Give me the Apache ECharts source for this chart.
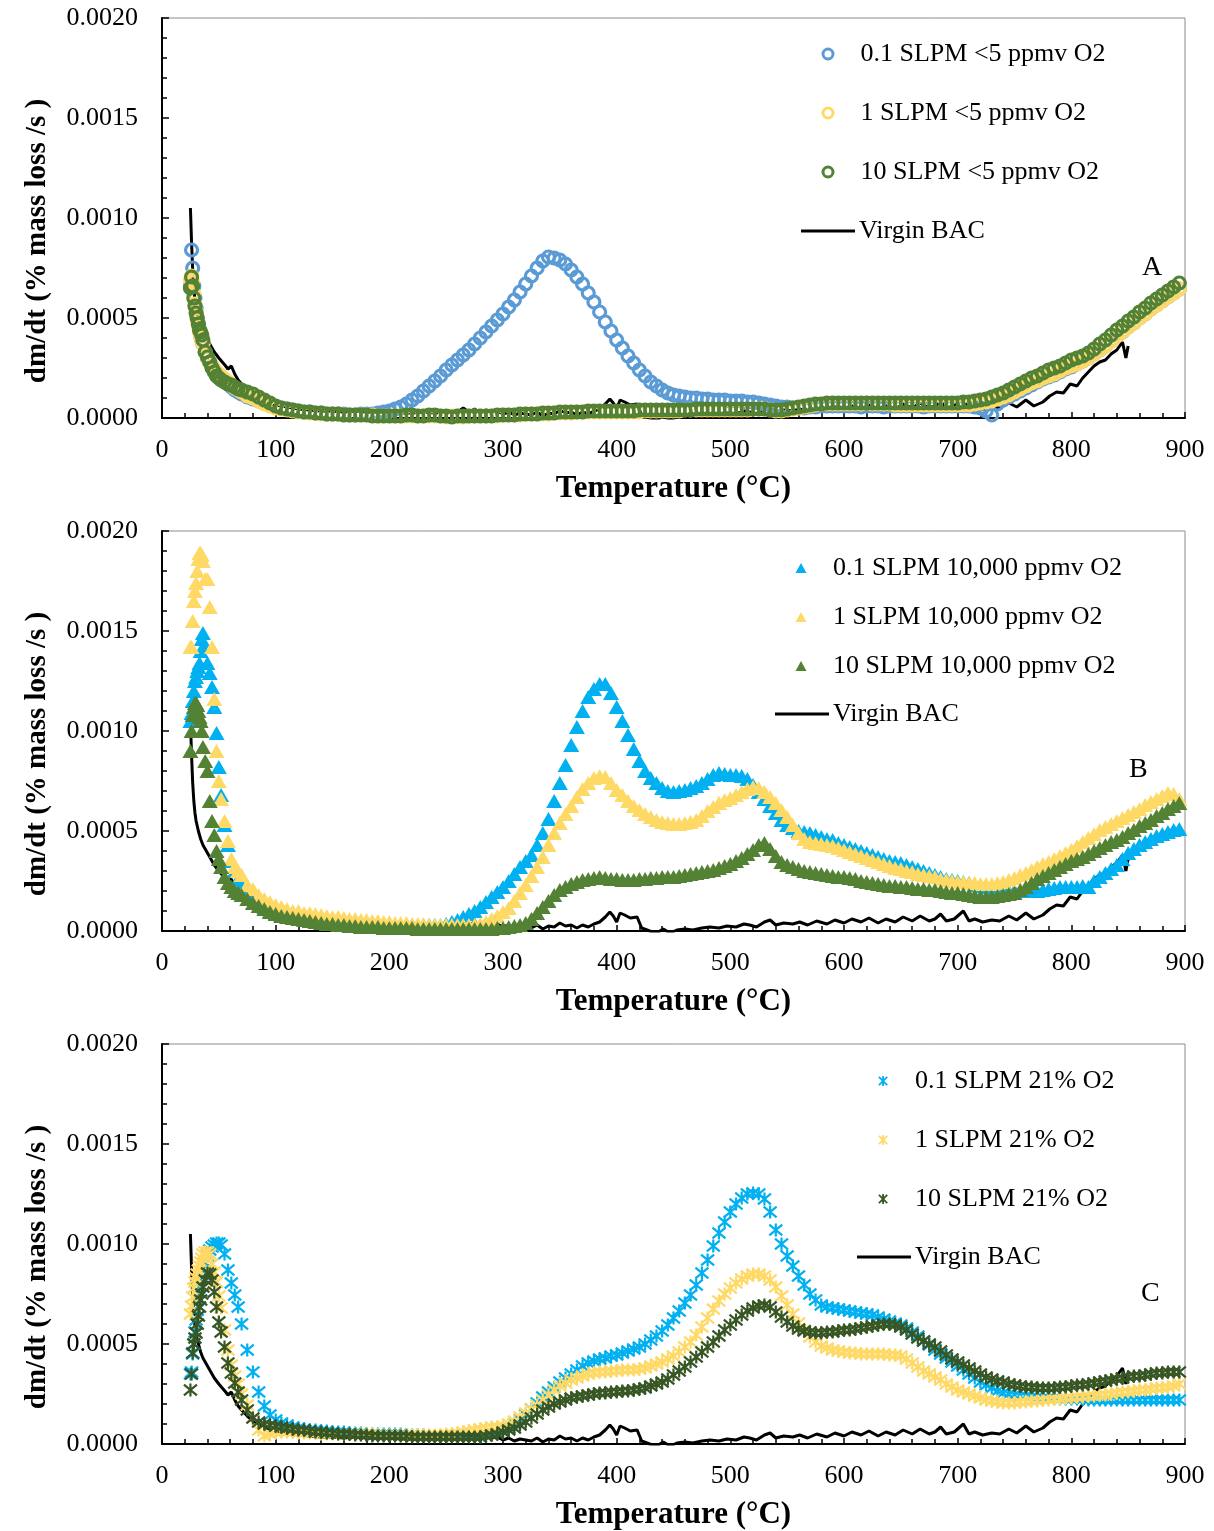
<!DOCTYPE html>
<html><head><meta charset="utf-8">
<script src="https://cdn.jsdelivr.net/npm/echarts@6/dist/echarts.min.js"></script>
<style>html,body{margin:0;padding:0;background:#fff;}#c{width:1214px;height:1531px;}</style>
</head><body><div id="c"></div>
<script>
// Values are in units of 1e-4 (% mass loss /s); axis labels convert back.
const TEMP = [25,26,27,28,29,30,31,32,33,34,35,36,38,40,42,44,46,48,50,52,55,58,61,64,67,70,75,
80,85,90,95,100,
105,110,115,120,125,130,135,140,145,150,155,160,165,170,175,180,185,190,195,200,
205,210,215,220,225,230,235,240,245,250,255,260,265,270,275,280,285,290,295,300,
305,310,315,320,325,330,335,340,345,350,355,360,365,370,375,380,385,390,395,400,
405,410,415,420,425,430,435,440,445,450,455,460,465,470,475,480,485,490,495,500,
505,510,515,520,525,530,535,540,545,550,555,560,565,570,575,580,585,590,595,600,
605,610,615,620,625,630,635,640,645,650,655,660,665,670,675,680,685,690,695,700,
705,710,715,720,725,730,735,740,745,750,755,760,765,770,775,780,785,790,795,800,
805,810,815,820,825,830,835,840,845,850,855,860,865,870,875,880,885,890,895];

const A_BLUE = [6.6,8.4,7.5,6.6,6.0,5.5,5.0,4.7,4.4,4.1,3.9,3.7,3.3,3.0,2.8,2.6,2.4,2.25,2.1,2.0,1.85,1.7,1.55,1.4,1.3,1.2,1.05,
0.95,0.85,0.75,0.65,0.55,
0.5,0.45,0.4,0.35,0.3,0.3,0.25,0.25,0.2,0.2,0.2,0.2,0.15,0.15,0.2,0.2,0.2,0.25,0.3,0.35,
0.45,0.55,0.7,0.9,1.1,1.35,1.6,1.85,2.1,2.4,2.65,2.9,3.15,3.4,3.7,4.0,4.3,4.6,4.9,5.2,
5.55,5.9,6.3,6.7,7.1,7.5,7.85,8.05,8.0,7.9,7.7,7.4,7.05,6.7,6.25,5.8,5.3,4.8,4.35,3.9,
3.5,3.1,2.75,2.4,2.1,1.8,1.6,1.4,1.25,1.15,1.1,1.05,1.0,1.0,0.95,0.95,0.9,0.9,0.9,0.85,
0.85,0.85,0.8,0.8,0.75,0.7,0.65,0.6,0.55,0.55,0.5,0.5,0.5,0.55,0.55,0.6,0.6,0.6,0.6,0.6,
0.6,0.6,0.55,0.6,0.6,0.6,0.55,0.6,0.6,0.6,0.6,0.6,0.6,0.55,0.6,0.6,0.6,0.6,0.6,0.6,
0.6,0.6,0.55,0.5,0.35,0.15,0.7,0.9,1.05,1.2,1.35,1.5,1.65,1.8,1.95,2.05,2.15,2.3,2.45,2.55,
2.7,2.85,3.0,3.2,3.4,3.6,3.85,4.1,4.3,4.55,4.75,5.0,5.2,5.45,5.65,5.85,6.05,6.25,6.45];
const A_YELLOW = [6.9,7.1,6.8,6.2,5.7,5.3,4.9,4.6,4.3,4.1,3.9,3.7,3.3,3.0,2.8,2.6,2.45,2.3,2.2,2.1,1.95,1.8,1.65,1.5,1.4,1.3,1.1,
1.0,0.85,0.7,0.6,0.5,
0.45,0.4,0.35,0.3,0.3,0.25,0.25,0.2,0.2,0.2,0.2,0.15,0.15,0.15,0.15,0.15,0.15,0.1,0.1,0.1,
0.1,0.1,0.1,0.1,0.1,0.1,0.1,0.1,0.1,0.05,0.1,0.1,0.05,0.1,0.1,0.1,0.1,0.1,0.1,0.15,
0.15,0.15,0.15,0.2,0.2,0.2,0.2,0.2,0.25,0.25,0.25,0.25,0.3,0.3,0.3,0.3,0.3,0.3,0.3,0.3,
0.3,0.3,0.3,0.3,0.35,0.35,0.35,0.35,0.35,0.35,0.35,0.4,0.4,0.4,0.4,0.4,0.4,0.4,0.4,0.4,
0.4,0.4,0.4,0.45,0.45,0.45,0.4,0.35,0.35,0.4,0.45,0.5,0.55,0.6,0.65,0.7,0.7,0.7,0.7,0.7,
0.7,0.7,0.7,0.75,0.7,0.7,0.7,0.7,0.65,0.65,0.65,0.65,0.65,0.65,0.65,0.65,0.65,0.65,0.65,0.65,
0.65,0.65,0.7,0.75,0.8,0.85,0.95,1.05,1.15,1.3,1.45,1.6,1.75,1.85,2.0,2.1,2.2,2.35,2.5,2.6,
2.7,2.85,3.0,3.2,3.4,3.6,3.85,4.1,4.3,4.55,4.75,5.0,5.2,5.45,5.65,5.85,6.05,6.25,6.45];
const A_GREEN = [6.5,7.05,6.6,6.0,5.6,5.25,5.0,4.7,4.4,4.3,4.15,3.9,3.3,3.05,2.8,2.5,2.3,2.1,2.0,1.9,1.8,1.7,1.65,1.55,1.45,1.4,1.3,
1.2,1.05,0.9,0.75,0.6,
0.5,0.45,0.4,0.35,0.3,0.3,0.25,0.25,0.2,0.2,0.2,0.15,0.15,0.15,0.15,0.15,0.1,0.1,0.1,0.1,
0.1,0.1,0.15,0.15,0.1,0.1,0.15,0.15,0.1,0.1,0.05,0.1,0.1,0.1,0.1,0.1,0.1,0.1,0.15,0.15,
0.15,0.15,0.2,0.2,0.2,0.2,0.25,0.25,0.25,0.3,0.3,0.3,0.3,0.3,0.35,0.35,0.35,0.35,0.35,0.35,
0.35,0.35,0.35,0.4,0.4,0.4,0.4,0.4,0.4,0.4,0.4,0.4,0.4,0.45,0.45,0.45,0.45,0.45,0.45,0.45,
0.45,0.45,0.45,0.45,0.45,0.45,0.4,0.4,0.4,0.45,0.5,0.55,0.6,0.65,0.7,0.7,0.75,0.75,0.75,0.75,
0.75,0.75,0.75,0.75,0.75,0.75,0.75,0.75,0.75,0.75,0.75,0.75,0.75,0.75,0.75,0.75,0.75,0.75,0.75,0.75,
0.8,0.8,0.85,0.9,0.95,1.05,1.15,1.25,1.4,1.55,1.7,1.85,2.0,2.1,2.25,2.4,2.5,2.6,2.75,2.9,
3.0,3.1,3.25,3.45,3.7,3.9,4.15,4.4,4.6,4.85,5.05,5.3,5.5,5.75,5.95,6.15,6.35,6.55,6.75];

const B_BLUE = [10.5,10.9,11.5,12.0,12.5,12.7,13.0,13.2,13.4,14.0,14.6,14.9,14.2,13.4,12.9,12.2,11.2,9.9,8.2,6.8,5.3,4.3,3.5,3.0,2.6,2.3,1.9,
1.6,1.4,1.2,1.0,0.9,
0.8,0.75,0.7,0.65,0.6,0.55,0.5,0.5,0.45,0.45,0.4,0.4,0.35,0.35,0.35,0.3,0.3,0.3,0.3,0.3,
0.3,0.3,0.3,0.3,0.3,0.3,0.3,0.3,0.3,0.35,0.45,0.55,0.7,0.85,1.0,1.2,1.45,1.7,1.95,2.2,
2.5,2.85,3.2,3.5,3.8,4.3,4.9,5.6,6.5,7.4,8.3,9.3,10.2,11.0,11.7,12.1,12.35,12.35,11.9,11.2,
10.5,9.8,9.1,8.5,8.0,7.65,7.4,7.15,7.0,6.95,7.0,7.05,7.15,7.25,7.4,7.6,7.8,7.9,7.85,7.8,
7.8,7.75,7.6,7.3,6.95,6.6,6.25,5.9,5.55,5.3,5.15,5.0,4.95,4.9,4.8,4.7,4.6,4.55,4.4,4.3,
4.2,4.1,4.0,3.9,3.8,3.7,3.6,3.5,3.45,3.4,3.3,3.2,3.1,3.0,2.9,2.8,2.7,2.6,2.55,2.5,
2.45,2.4,2.3,2.25,2.2,2.15,2.1,2.05,2.0,2.0,2.0,2.0,2.0,2.0,2.05,2.1,2.15,2.2,2.2,2.2,
2.2,2.25,2.2,2.5,2.7,2.9,3.1,3.3,3.6,3.9,4.1,4.3,4.45,4.6,4.75,4.85,4.95,5.05,5.1];
const B_YELLOW = [14.2,14.2,15.5,16.5,17.0,17.4,18.0,18.6,18.9,18.9,18.8,18.5,17.6,17.6,16.2,14.2,11.6,9.0,7.5,6.6,5.5,4.5,3.6,3.2,3.0,2.8,2.3,
2.1,1.8,1.6,1.45,1.3,
1.2,1.1,1.0,1.0,0.9,0.9,0.85,0.8,0.75,0.7,0.7,0.65,0.6,0.6,0.55,0.55,0.5,0.5,0.45,0.45,
0.4,0.4,0.4,0.35,0.35,0.35,0.3,0.3,0.3,0.3,0.3,0.3,0.3,0.3,0.3,0.35,0.45,0.6,0.75,0.95,
1.15,1.5,1.9,2.3,2.75,3.2,3.7,4.3,4.9,5.4,5.85,6.25,6.7,7.1,7.4,7.65,7.75,7.7,7.4,7.05,
6.8,6.5,6.25,6.05,5.85,5.7,5.55,5.45,5.4,5.35,5.35,5.4,5.45,5.55,5.75,6.0,6.2,6.4,6.55,6.65,
6.8,6.95,7.1,7.2,7.15,6.95,6.7,6.4,6.05,5.7,5.3,4.9,4.6,4.45,4.4,4.35,4.3,4.25,4.15,4.05,
3.95,3.85,3.75,3.65,3.55,3.45,3.35,3.25,3.15,3.1,3.0,2.95,2.85,2.8,2.75,2.7,2.6,2.55,2.5,2.45,
2.45,2.4,2.4,2.35,2.35,2.35,2.4,2.45,2.55,2.65,2.8,2.9,3.05,3.2,3.35,3.45,3.6,3.75,3.9,4.05,
4.25,4.45,4.65,4.85,5.05,5.2,5.35,5.5,5.65,5.8,5.95,6.1,6.3,6.45,6.6,6.75,6.9,6.85,6.6];
const B_GREEN = [9.0,10.0,10.8,11.2,11.4,11.4,11.3,11.0,10.7,10.5,10.0,9.2,8.5,8.0,6.5,5.5,4.8,4.0,3.6,3.2,2.7,2.4,2.2,2.0,1.9,1.8,1.6,
1.4,1.25,1.1,0.95,0.85,
0.75,0.7,0.65,0.6,0.55,0.5,0.45,0.4,0.35,0.35,0.3,0.3,0.25,0.25,0.2,0.2,0.2,0.2,0.15,0.15,
0.15,0.15,0.15,0.15,0.1,0.1,0.1,0.1,0.1,0.1,0.1,0.1,0.1,0.1,0.1,0.1,0.1,0.1,0.15,0.15,
0.2,0.25,0.3,0.4,0.6,0.9,1.2,1.5,1.8,2.05,2.2,2.35,2.45,2.55,2.6,2.65,2.7,2.65,2.6,2.6,
2.55,2.55,2.55,2.6,2.6,2.65,2.65,2.7,2.7,2.7,2.75,2.8,2.85,2.9,2.95,3.0,3.05,3.15,3.25,3.35,
3.5,3.65,3.85,4.05,4.3,4.4,4.1,3.75,3.45,3.3,3.2,3.1,3.0,2.95,2.9,2.85,2.8,2.75,2.7,2.7,
2.65,2.6,2.5,2.45,2.4,2.35,2.3,2.25,2.25,2.2,2.2,2.15,2.1,2.1,2.05,2.05,2.0,1.95,1.9,1.9,
1.85,1.8,1.75,1.7,1.7,1.7,1.75,1.8,1.85,1.9,2.05,2.2,2.4,2.6,2.75,2.9,3.05,3.2,3.35,3.5,
3.6,3.7,3.85,4.0,4.15,4.3,4.45,4.55,4.7,4.9,5.05,5.25,5.4,5.55,5.75,5.9,6.1,6.25,6.4];

const C_BLUE = [3.5,3.6,4.5,5.0,5.6,6.2,6.7,7.3,7.85,8.2,8.5,8.7,9.05,9.4,9.7,9.85,9.95,10.05,10.05,9.95,9.5,8.7,8.05,7.45,6.85,6.0,4.7,
3.6,2.6,1.9,1.45,1.2,
1.05,0.95,0.85,0.8,0.75,0.7,0.7,0.65,0.65,0.6,0.6,0.6,0.55,0.55,0.55,0.5,0.5,0.5,0.5,0.5,
0.5,0.5,0.45,0.45,0.45,0.45,0.4,0.4,0.4,0.4,0.4,0.4,0.4,0.4,0.4,0.35,0.45,0.5,0.6,0.7,
0.8,1.0,1.2,1.45,1.75,2.05,2.35,2.6,2.85,3.1,3.3,3.5,3.7,3.9,4.05,4.15,4.25,4.3,4.4,4.45,
4.55,4.65,4.75,4.85,5.0,5.2,5.4,5.65,5.95,6.3,6.65,7.05,7.45,7.95,8.55,9.2,9.9,10.55,11.1,11.6,
12.0,12.3,12.5,12.55,12.5,12.25,11.6,10.7,10.0,9.4,8.9,8.4,7.95,7.5,7.2,6.95,6.85,6.8,6.75,6.7,
6.65,6.6,6.55,6.5,6.45,6.35,6.25,6.15,6.05,5.95,5.8,5.6,5.4,5.15,4.95,4.7,4.5,4.3,4.1,3.9,
3.7,3.5,3.3,3.1,2.95,2.8,2.65,2.55,2.5,2.45,2.4,2.4,2.35,2.35,2.3,2.3,2.3,2.25,2.25,2.25,
2.25,2.25,2.2,2.2,2.2,2.2,2.2,2.2,2.2,2.2,2.2,2.2,2.2,2.2,2.2,2.2,2.2,2.2,2.2];
const C_YELLOW = [6.5,6.9,7.35,7.8,8.1,8.3,8.5,8.7,8.9,9.1,9.3,9.5,9.6,9.6,9.5,9.0,8.6,8.1,7.4,6.8,5.7,4.7,3.95,3.4,3.0,2.5,1.95,
1.3,0.7,0.4,0.5,0.6,
0.6,0.6,0.6,0.55,0.55,0.55,0.55,0.5,0.5,0.5,0.5,0.5,0.5,0.5,0.5,0.5,0.5,0.45,0.45,0.45,
0.45,0.45,0.45,0.45,0.45,0.45,0.45,0.45,0.45,0.5,0.5,0.55,0.6,0.65,0.7,0.75,0.8,0.85,0.85,0.9,
1.0,1.15,1.35,1.55,1.75,1.95,2.2,2.45,2.7,2.9,3.05,3.2,3.3,3.4,3.5,3.55,3.6,3.6,3.65,3.65,
3.7,3.7,3.7,3.75,3.8,3.9,4.0,4.1,4.25,4.4,4.6,4.85,5.1,5.45,5.85,6.3,6.75,7.15,7.5,7.8,
8.05,8.25,8.4,8.5,8.5,8.4,8.2,7.85,7.4,6.95,6.5,6.05,5.7,5.35,5.1,4.9,4.8,4.7,4.65,4.6,
4.55,4.55,4.5,4.5,4.5,4.5,4.5,4.45,4.45,4.4,4.25,4.05,3.85,3.65,3.5,3.35,3.2,3.0,2.85,2.7,
2.6,2.5,2.4,2.3,2.2,2.15,2.1,2.05,2.05,2.05,2.1,2.1,2.15,2.15,2.2,2.2,2.25,2.25,2.3,2.3,
2.35,2.35,2.4,2.4,2.45,2.45,2.5,2.55,2.6,2.6,2.65,2.7,2.7,2.75,2.8,2.8,2.85,2.9,3.0];
const C_GREEN = [2.7,3.5,4.55,5.0,5.3,5.55,6.0,6.4,6.85,7.2,7.5,7.85,8.2,8.55,8.5,8.2,7.6,6.85,6.1,5.6,4.85,4.05,3.55,3.05,2.6,2.2,1.7,
1.3,1.1,1.0,0.95,0.9,
0.85,0.8,0.75,0.7,0.7,0.65,0.6,0.6,0.55,0.55,0.5,0.5,0.5,0.45,0.45,0.45,0.4,0.4,0.4,0.4,
0.4,0.4,0.4,0.35,0.35,0.35,0.35,0.35,0.35,0.35,0.35,0.35,0.35,0.35,0.35,0.35,0.4,0.45,0.5,0.6,
0.7,0.8,0.95,1.1,1.3,1.5,1.7,1.85,2.0,2.1,2.2,2.3,2.35,2.4,2.45,2.5,2.55,2.55,2.6,2.6,
2.65,2.65,2.7,2.75,2.8,2.9,3.0,3.1,3.25,3.45,3.65,3.85,4.1,4.35,4.6,4.85,5.1,5.4,5.7,5.95,
6.2,6.45,6.65,6.8,6.9,6.95,6.85,6.6,6.35,6.1,5.9,5.75,5.65,5.6,5.55,5.55,5.6,5.6,5.65,5.7,
5.7,5.75,5.8,5.85,5.9,5.95,6.0,6.0,5.95,5.85,5.7,5.5,5.3,5.15,5.0,4.85,4.65,4.45,4.25,4.1,
3.95,3.8,3.65,3.5,3.35,3.25,3.15,3.1,3.0,2.95,2.9,2.85,2.85,2.8,2.8,2.8,2.8,2.85,2.85,2.9,
2.95,2.95,3.0,3.05,3.1,3.15,3.2,3.25,3.3,3.35,3.4,3.4,3.45,3.5,3.55,3.55,3.6,3.6,3.6];

const VIRGIN_T = [25,26,27,28,29,30,32,34,36,38,40,43,46,50,53,56,58,61,64,67,70,75,80,85,90,95,100,110,120,130,140,150,160,170,180,190,200,210,220,230,240,250,260,265,270,275,280,285,290,295,300,305,310,315,320,325,330,335,340,345,350,355,360,365,370,375,380,385,390,394,397,400,403,407,412,418,422,429,435,441,447,453,460,467,475,482,490,497,505,512,517,523,530,535,540,547,555,561,568,576,585,592,600,607,615,622,630,637,645,652,660,667,675,680,685,690,697,705,710,715,722,730,737,745,752,760,767,775,781,787,793,799,805,810,815,820,825,830,835,840,845,848,850];
const VIRGIN_V = [10.5,8.8,7.4,6.5,5.9,5.5,5.0,4.6,4.3,4.1,3.9,3.6,3.3,3.0,2.8,2.6,2.45,2.6,2.2,1.9,1.7,1.4,1.15,1.0,0.85,0.75,0.65,0.55,0.45,0.4,0.35,0.35,0.3,0.35,0.3,0.3,0.3,0.25,0.25,0.3,0.25,0.3,0.3,0.5,0.3,0.45,0.25,0.4,0.3,0.35,0.2,0.3,0.15,0.25,0.2,0.15,0.3,0.1,0.25,0.2,0.4,0.25,0.3,0.15,0.3,0.2,0.35,0.45,0.7,0.95,0.75,0.45,0.9,0.8,0.65,0.7,0.15,0.0,-0.1,0.1,-0.1,0.05,0.1,0.05,0.15,0.2,0.15,0.25,0.2,0.35,0.3,0.2,0.45,0.55,0.3,0.4,0.35,0.45,0.3,0.5,0.35,0.55,0.4,0.6,0.45,0.65,0.4,0.6,0.45,0.7,0.5,0.75,0.5,0.6,0.85,0.5,0.6,1.0,0.5,0.6,0.45,0.55,0.5,0.75,0.55,0.9,0.6,0.8,1.1,1.3,1.25,1.7,1.6,2.0,2.3,2.6,2.8,2.9,3.2,3.4,3.8,3.0,3.6];

const X_TICKS = [0,100,200,300,400,500,600,700,800,900];
const Y_TICKS = ['0.0000','0.0005','0.0010','0.0015','0.0020'];

const NAMES_A = ['0.1 SLPM <5 ppmv O2','1 SLPM <5 ppmv O2','10 SLPM <5 ppmv O2'];
const NAMES_B = ['0.1 SLPM 10,000 ppmv O2','1 SLPM 10,000 ppmv O2','10 SLPM 10,000 ppmv O2'];
const NAMES_C = ['0.1 SLPM 21% O2','1 SLPM 21% O2','10 SLPM 21% O2'];
const VIRGIN = 'Virgin BAC';
const PANEL_LABELS = ['A','B','C'];

const FONT = "'Liberation Serif','Times New Roman',serif";
const STAR = 'path://M0,0L10,10M10,0L0,10M5,-1L5,11';
const tops = [18, 531, 1044];

const pts = (xs, ys) => xs.map((t, i) => [t, ys[i]]);

const grids = tops.map(t => ({left:162, top:t, width:1023, height:400, show:true, borderColor:'#8c8c8c', borderWidth:1, containLabel:false}));
const xAxes = tops.map((t, i) => ({
  type:'value', gridIndex:i, min:0, max:900, interval:100,
  name:'Temperature (°C)', nameLocation:'middle', nameGap:55,
  nameTextStyle:{fontFamily:FONT, fontWeight:'bold', fontSize:31, color:'#000'},
  axisLine:{show:true, onZero:false, lineStyle:{color:'#000', width:2}},
  axisTick:{show:true, inside:true, length:6, lineStyle:{color:'#000', width:1.5}},
  minorTick:{show:true, splitNumber:5, length:5, lineStyle:{color:'#000', width:1.5}},
  splitLine:{show:false}, minorSplitLine:{show:false},
  axisLabel:{fontFamily:FONT, fontSize:26, color:'#000', margin:19,
    formatter: v => X_TICKS.includes(v) ? String(v) : ''}
}));
const yAxes = tops.map((t, i) => ({
  type:'value', gridIndex:i, min:0, max:20, interval:5,
  name:'dm/dt (% mass loss /s )', nameLocation:'middle', nameGap:110,
  nameTextStyle:{fontFamily:FONT, fontWeight:'bold', fontSize:29, color:'#000', padding:[0,46,0,0]},
  axisLine:{show:true, onZero:false, lineStyle:{color:'#000', width:2}},
  axisTick:{show:true, inside:true, length:7, lineStyle:{color:'#000', width:1.5}},
  minorTick:{show:true, splitNumber:5, length:5, lineStyle:{color:'#000', width:1.5}},
  splitLine:{show:false}, minorSplitLine:{show:false},
  axisLabel:{fontFamily:FONT, fontSize:26, color:'#000', margin:24,
    formatter: v => Y_TICKS[v/5]}
}));

function scatter(name, ys, gi, symbol, size, color, hollow, bw) {
  return {
    type:'scatter', name, xAxisIndex:gi, yAxisIndex:gi, data:pts(TEMP, ys),
    symbol, symbolSize:size,
    itemStyle: hollow ? {color:'rgba(0,0,0,0)', borderColor:color, borderWidth:bw, opacity:1}
                      : {color, opacity:1},
    emphasis:{disabled:true}, silent:true
  };
}
function virgin(gi) {
  return {type:'line', name:VIRGIN, xAxisIndex:gi, yAxisIndex:gi, data:pts(VIRGIN_T, VIRGIN_V),
    symbol:'none', showSymbol:false, smooth:false, lineStyle:{color:'#000', width:3}, itemStyle:{color:'#000'},
    emphasis:{disabled:true}, silent:true, z:1};
}

const series = [
  virgin(0),
  scatter(NAMES_A[0], A_BLUE, 0, 'circle', 12, '#5B9BD5', true, 3.2),
  scatter(NAMES_A[1], A_YELLOW, 0, 'circle', 12, '#FFD966', true, 3.2),
  scatter(NAMES_A[2], A_GREEN, 0, 'circle', 12, '#548235', true, 3.2),
  virgin(1),
  scatter(NAMES_B[0], B_BLUE, 1, 'triangle', [16,14], '#00B0F0', false),
  scatter(NAMES_B[1], B_YELLOW, 1, 'triangle', [16,14], '#FFD966', false),
  scatter(NAMES_B[2], B_GREEN, 1, 'triangle', [16,14], '#548235', false),
  virgin(2),
  scatter(NAMES_C[0], C_BLUE, 2, STAR, 13, '#00B0F0', true, 2.2),
  scatter(NAMES_C[1], C_YELLOW, 2, STAR, 13, '#FFD966', true, 2.2),
  scatter(NAMES_C[2], C_GREEN, 2, STAR, 13, '#375623', true, 2.2)
];

function legend(names, left, top, w, h, gap, pad, bw) {
  const o = {data:names, orient:'vertical', left, top, itemWidth:w, itemHeight:h, itemGap:gap,
    selectedMode:false, padding:0,
    textStyle:{fontFamily:FONT, fontSize:26, color:'#000', lineHeight:26, padding:[0,0,0,pad]}};
  if (bw) o.itemStyle = {borderWidth:bw};
  return o;
}
function vlegend(left, top) {
  return {data:[{name:VIRGIN, icon:'rect'}], orient:'vertical', left, top, itemWidth:54, itemHeight:3,
    selectedMode:false, padding:0, itemStyle:{color:'#000', borderWidth:0},
    textStyle:{fontFamily:FONT, fontSize:26, color:'#000', lineHeight:26, padding:[0,0,0,-1]}};
}
const legends = [
  legend(NAMES_A, 821.5, 41, 10, 10, 33, 22.5, 3),
  vlegend(801, 218),
  legend(NAMES_B, 795.5, 555, 11, 10, 23, 21.5),
  vlegend(775, 701),
  legend(NAMES_C, 878, 1068, 10, 10, 33, 22, 1.8),
  vlegend(857, 1244)
];

const labelPos = [[1152, 270], [1139, 772], [1151, 1296]];
const graphic = PANEL_LABELS.map((s, i) => ({type:'text', left:labelPos[i][0]-10, top:labelPos[i][1]-16,
  style:{text:s, font:"28px 'Liberation Serif'", fill:'#000'}, silent:true}));

const chart = echarts.init(document.getElementById('c'), null, {renderer:'canvas'});
chart.setOption({
  animation:false, backgroundColor:'#fff',
  grid:grids, xAxis:xAxes, yAxis:yAxes, series, legend:legends, graphic
});
</script></body></html>
